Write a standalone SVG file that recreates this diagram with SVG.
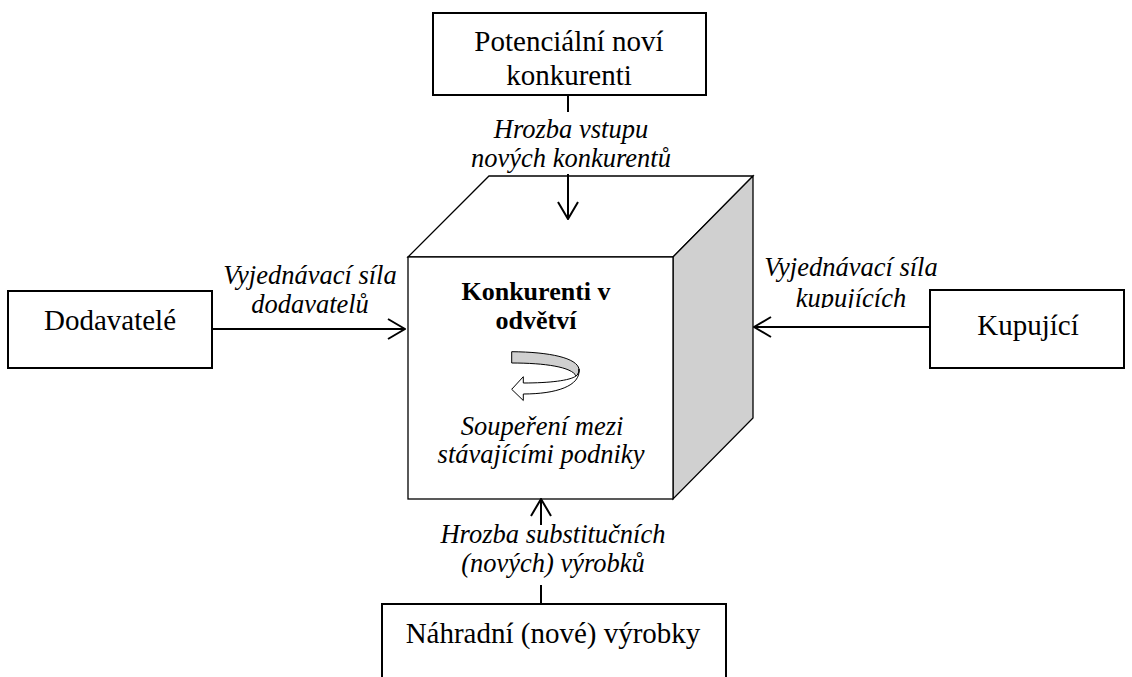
<svg xmlns="http://www.w3.org/2000/svg" width="1132" height="677" viewBox="0 0 1132 677">
<style>
.box{fill:#fff;stroke:#000;stroke-width:2}
.cube{stroke:#000;stroke-width:1.3}
.conn{stroke:#000;stroke-width:2;fill:none}
.t{font-family:"Liberation Serif","Times New Roman",serif;font-size:29px;fill:#000;text-anchor:middle}
.i{font-family:"Liberation Serif","Times New Roman",serif;font-size:26.5px;font-style:italic;fill:#000;text-anchor:middle}
.b{font-family:"Liberation Serif","Times New Roman",serif;font-size:26px;font-weight:bold;fill:#000;text-anchor:middle}
</style>
<defs>
<marker id="ah" viewBox="0 0 19 22" refX="18" refY="11" markerWidth="19" markerHeight="22" markerUnits="userSpaceOnUse" orient="auto">
<path d="M1,1 L18,11 L1,21" fill="none" stroke="#000" stroke-width="2"/>
</marker>
<clipPath id="kclip"><rect x="740" y="250" width="205" height="58"/></clipPath>
</defs>
<rect width="1132" height="677" fill="#fff"/>
<g id="cube">
<polygon class="cube" fill="#fff" points="408,257 489,176 753,176 673,257"/>
<polygon class="cube" fill="#d0d0d0" points="673,257 753,176 753,418 673,499"/>
<rect class="cube" fill="#fff" x="408" y="257" width="265" height="242"/>
<text class="b" x="536" y="300">Konkurenti v</text>
<text class="b" x="536" y="329">odvětví</text>
<path d="M511.7,351.7 C550,352 577,358 579,369 C579.5,372 578,375 576,376 C572,367 545,363 511.7,363 Z" fill="#d0d0d0" stroke="#000" stroke-width="1"/>
<path d="M579,369 C581,386 556,394 523.3,394 L523.3,400.5 L511.7,389.3 L523.3,376.7 L523.3,383 C550,383 570,380.5 576,376 C578,375 579,372 579,369 Z" fill="#fff" stroke="#000" stroke-width="1"/>
<text class="i" x="542" y="435">Soupeření mezi</text>
<text class="i" x="541" y="463">stávajícími podniky</text>
</g>
<g id="top">
<rect class="box" x="433" y="13" width="273" height="82"/>
<text class="t" x="569" y="51">Potenciální noví</text>
<text class="t" x="569" y="85">konkurenti</text>
</g>
<g id="left">
<rect class="box" x="8" y="291" width="204" height="77"/>
<text class="t" x="110" y="330">Dodavatelé</text>
</g>
<g id="right">
<rect class="box" x="930" y="290" width="194" height="78"/>
<text class="t" x="1028" y="335">Kupující</text>
</g>
<g id="bottom">
<rect class="box" x="382" y="604" width="344" height="80"/>
<text class="t" x="553" y="643">Náhradní (nové) výrobky</text>
</g>
<g id="connectors">
<line class="conn" x1="568" y1="95" x2="568" y2="112"/>
<line class="conn" x1="568" y1="174" x2="568" y2="219" marker-end="url(#ah)"/>
<line class="conn" x1="212" y1="329" x2="405" y2="329" marker-end="url(#ah)"/>
<line class="conn" x1="930" y1="327" x2="754" y2="327" marker-end="url(#ah)"/>
<line class="conn" x1="541" y1="525" x2="541" y2="499" marker-end="url(#ah)"/>
<line class="conn" x1="541" y1="585" x2="541" y2="604"/>
</g>
<g id="labels">
<text class="i" x="571" y="138">Hrozba vstupu</text>
<text class="i" x="571" y="167">nových konkurentů</text>
<text class="i" x="310" y="284">Vyjednávací síla</text>
<text class="i" x="310" y="313">dodavatelů</text>
<g clip-path="url(#kclip)">
<text class="i" x="851" y="276">Vyjednávací síla</text>
<text class="i" x="851" y="307">kupujících</text>
</g>
<text class="i" x="553" y="543">Hrozba substitučních</text>
<text class="i" x="553" y="572">(nových) výrobků</text>
</g>
</svg>
